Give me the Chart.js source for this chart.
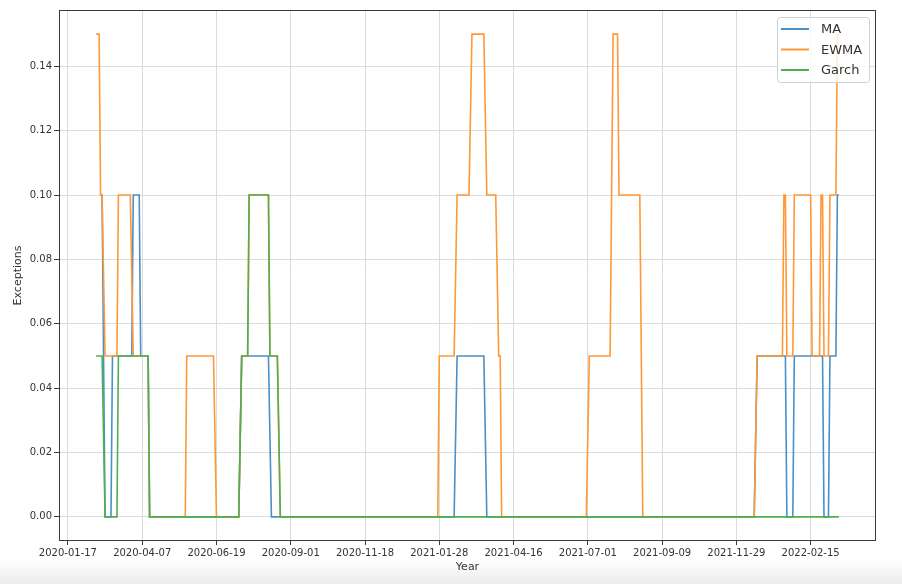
<!DOCTYPE html>
<html>
<head>
<meta charset="utf-8">
<script src="https://cdn.jsdelivr.net/npm/chart.js@4"></script>
<style>
  html, body { margin: 0; padding: 0; }
  body {
    width: 902px; height: 584px; overflow: hidden;
    background: linear-gradient(to bottom, #ffffff 0px, #ffffff 560px, #ececec 584px);
  }
  #wrap { position: relative; width: 902px; height: 584px; }
</style>
</head>
<body>
<div id="wrap"><canvas id="excChart" width="902" height="584"></canvas></div>
<script>
// trading-day index of each tick and its label
const tickIdx = [0, 50, 100, 150, 200, 250, 300, 350, 400, 450, 500];
const tickLabels = ['2020-01-17', '2020-04-07', '2020-06-19', '2020-09-01', '2020-11-18',
                    '2021-01-28', '2021-04-16', '2021-07-01', '2021-09-09', '2021-11-29', '2022-02-15'];
const yTicks = [0, 0.02, 0.04, 0.06, 0.08, 0.10, 0.12, 0.14];

// exception rate, given at the days where it changes
const maIdx = [22, 23, 25, 29, 30, 43, 44, 48, 49, 54, 55, 115, 117, 135, 137, 260, 262, 280, 282,
               462, 464, 483, 484, 488, 489, 508, 509, 512, 513, 517, 518, 519];
const maVal = [0.10, 0.10, 0, 0, 0.05, 0.05, 0.10, 0.10, 0.05, 0.05, 0, 0, 0.05, 0.05, 0, 0, 0.05, 0.05, 0,
               0, 0.05, 0.05, 0, 0, 0.05, 0.05, 0, 0, 0.05, 0.05, 0.10, 0.10];

const ewmaIdx = [19, 21, 22, 23, 25, 33, 34, 42, 44, 54, 55, 79, 80, 98, 100,
                 115, 117, 121, 122, 135, 136, 141, 143,
                 249, 250, 260, 262, 270, 272, 280, 282, 288, 290, 291, 292,
                 349, 351, 365, 367, 370, 371, 385, 387,
                 462, 464, 481, 482, 483, 484, 488, 489, 500, 501, 506, 507, 508, 509, 512, 513, 517, 518, 519];
const ewmaVal = [0.15, 0.15, 0.10, 0.10, 0.05, 0.05, 0.10, 0.10, 0.05, 0.05, 0, 0, 0.05, 0.05, 0,
                 0, 0.05, 0.05, 0.10, 0.10, 0.05, 0.05, 0,
                 0, 0.05, 0.05, 0.10, 0.10, 0.15, 0.15, 0.10, 0.10, 0.05, 0.05, 0,
                 0, 0.05, 0.05, 0.15, 0.15, 0.10, 0.10, 0,
                 0, 0.05, 0.05, 0.10, 0.10, 0.05, 0.05, 0.10, 0.10, 0.05, 0.05, 0.10, 0.10, 0.05, 0.05, 0.10, 0.10, 0.15, 0.15];

const garchIdx = [19, 23, 25, 33, 34, 54, 55, 115, 117, 121, 122, 135, 136, 141, 143, 519];
const garchVal = [0.05, 0.05, 0, 0, 0.05, 0.05, 0, 0, 0.05, 0.05, 0.10, 0.10, 0.05, 0.05, 0, 0];

const seriesNames = ['MA', 'EWMA', 'Garch'];
const colors = ['#4a90c8', '#ff9838', '#50ae50'];

function toPoints(xs, ys) {
    return xs.map((x, i) => ({ x: x, y: ys[i] }));
}

// full box round the plot, like matplotlib spines
const spines = {
    id: 'spines',
    afterDraw(chart) {
        const a = chart.chartArea;
        const ctx = chart.ctx;
        ctx.save();
        ctx.strokeStyle = '#3a3a3a';
        ctx.lineWidth = 1;
        ctx.strokeRect(a.left + 0.5, a.top + 0.5, a.right - a.left - 1, a.bottom - a.top - 1);
        ctx.restore();
    }
};

// legend box inside the plot, upper right
const boxLegend = {
    id: 'boxLegend',
    afterDraw(chart) {
        const ctx = chart.ctx;
        const a = chart.chartArea;
        const x = a.right - 99, y = a.top + 7, w = 92, h = 65;
        ctx.save();
        ctx.fillStyle = 'rgba(255,255,255,0.8)';
        ctx.strokeStyle = '#d0d0d0';
        ctx.lineWidth = 1;
        ctx.beginPath();
        ctx.roundRect(x + 0.5, y + 0.5, w, h, 3);
        ctx.fill();
        ctx.stroke();
        ctx.font = '13px "DejaVu Sans"';
        ctx.textBaseline = 'middle';
        ctx.fillStyle = '#333333';
        chart.data.datasets.forEach((ds, i) => {
            const ly = y + 12 + i * 20.5;
            ctx.strokeStyle = ds.borderColor;
            ctx.lineWidth = 2;
            ctx.beginPath();
            ctx.moveTo(x + 4, ly);
            ctx.lineTo(x + 32, ly);
            ctx.stroke();
            ctx.fillText(ds.label, x + 44, ly + 1);
        });
        ctx.restore();
    }
};

const ctx = document.getElementById('excChart').getContext('2d');
new Chart(ctx, {
    type: 'line',
    data: {
        datasets: [
            // later series sit on top, as in the original plot
            { label: seriesNames[0], data: toPoints(maIdx, maVal), borderColor: colors[0], order: 2 },
            { label: seriesNames[1], data: toPoints(ewmaIdx, ewmaVal), borderColor: colors[1], order: 1 },
            { label: seriesNames[2], data: toPoints(garchIdx, garchVal), borderColor: colors[2], order: 0 }
        ]
    },
    options: {
        responsive: false,
        animation: false,
        devicePixelRatio: 1,
        layout: { padding: { top: 10, right: 26, left: 0, bottom: 0 } },
        elements: {
            line: { borderWidth: 1.6, tension: 0 },
            point: { radius: 0, hoverRadius: 0 }
        },
        scales: {
            x: {
                type: 'linear',
                min: -6,
                max: 544,
                afterBuildTicks: axis => { axis.ticks = tickIdx.map(v => ({ value: v })); },
                afterFit: axis => { axis.height = 43; },
                border: { display: false },
                grid: { color: '#dcdcdc', lineWidth: 1, tickColor: '#3a3a3a', tickLength: 4 },
                ticks: {
                    autoSkip: false,
                    maxRotation: 0,
                    padding: 2,
                    color: '#333333',
                    font: { family: 'DejaVu Sans', size: 10 },
                    callback: v => tickLabels[tickIdx.indexOf(v)]
                },
                title: {
                    display: true,
                    text: 'Year',
                    color: '#333333',
                    font: { family: 'DejaVu Sans', size: 11 },
                    padding: { top: 0, bottom: 10 }
                }
            },
            y: {
                min: -0.0075,
                max: 0.1575,
                afterBuildTicks: axis => { axis.ticks = yTicks.map(v => ({ value: v })); },
                afterFit: axis => { axis.width = 59; },
                border: { display: false },
                grid: { color: '#dcdcdc', lineWidth: 1, tickColor: '#3a3a3a', tickLength: 5 },
                ticks: {
                    padding: 2,
                    color: '#333333',
                    font: { family: 'DejaVu Sans', size: 10 },
                    callback: v => v.toFixed(2)
                },
                title: {
                    display: true,
                    text: 'Exceptions',
                    color: '#333333',
                    font: { family: 'DejaVu Sans', size: 11 },
                    padding: { top: 12, bottom: 0 }
                }
            }
        },
        plugins: {
            legend: { display: false },
            tooltip: { enabled: false }
        }
    },
    plugins: [spines, boxLegend]
});
</script>
</body>
</html>
